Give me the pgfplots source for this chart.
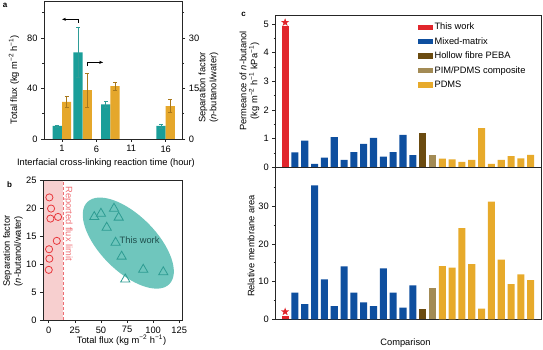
\documentclass[border=0pt]{standalone}
\usepackage{fontspec}
\setmainfont{Liberation Sans}
\usepackage{pgfplots}
\pgfplotsset{compat=1.18}
\usetikzlibrary{arrows.meta}
\definecolor{tealc}{HTML}{1A9E99}
\definecolor{tealerr}{HTML}{2E9C97}
\definecolor{goldc}{HTML}{E5A72B}
\definecolor{golderr}{HTML}{A8781C}
\definecolor{pinkfill}{HTML}{F7CFCF}
\definecolor{pinkline}{HTML}{EE6E73}
\definecolor{circc}{HTML}{E8383D}
\definecolor{ellfill}{HTML}{6FC6BD}
\definecolor{tric}{HTML}{2E9C92}
\definecolor{twtext}{HTML}{1F4E4C}
\definecolor{redbar}{HTML}{E1262C}
\definecolor{bluebar}{HTML}{0E4F9F}
\definecolor{brownbar}{HTML}{6B4B10}
\definecolor{khakibar}{HTML}{A38B55}
\definecolor{pdmsbar}{HTML}{E7AA2B}
\pgfdeclareplotmark{fstar}{%
  \pgfpathmoveto{\pgfpointpolar{90}{\pgfplotmarksize}}%
  \pgfpathlineto{\pgfpointpolar{126}{0.40\pgfplotmarksize}}%
  \pgfpathlineto{\pgfpointpolar{162}{\pgfplotmarksize}}%
  \pgfpathlineto{\pgfpointpolar{198}{0.40\pgfplotmarksize}}%
  \pgfpathlineto{\pgfpointpolar{234}{\pgfplotmarksize}}%
  \pgfpathlineto{\pgfpointpolar{270}{0.40\pgfplotmarksize}}%
  \pgfpathlineto{\pgfpointpolar{306}{\pgfplotmarksize}}%
  \pgfpathlineto{\pgfpointpolar{342}{0.40\pgfplotmarksize}}%
  \pgfpathlineto{\pgfpointpolar{18}{\pgfplotmarksize}}%
  \pgfpathlineto{\pgfpointpolar{54}{0.40\pgfplotmarksize}}%
  \pgfpathclose
  \pgfusepathqfill}
\newcommand{\lf}{\fontsize{9.3}{11}\selectfont}
\newcommand{\tf}{\fontsize{9.3}{10}\selectfont}
\pgfplotsset{
  every axis/.append style={
    scale only axis,
    axis line style={black!85, line width=0.6pt},
    tick style={black!85, line width=0.6pt},
    tick align=outside,
    major tick length=3pt,
    minor tick length=1.8pt,
    tick label style={font=\tf},
    label style={font=\lf},
    /pgf/number format/assume math mode=true,
  },
}
\begin{document}
\begin{tikzpicture}
\path[use as bounding box] (0,0) rectangle (543pt,350pt);

% ---------------- panel a (left axis) ----------------
\begin{axis}[
  at={(44pt,211pt)}, anchor=south west, width=138.3pt, height=138pt,
  xmin=-1.6, xmax=18.4, ymin=0, ymax=109.3,
  xtick={1,6,11,16}, ytick={0,40,80}, minor ytick={20,60,100},
  tick pos=left,
  ylabel={Total flux (kg m\textsuperscript{−2} h\textsuperscript{−1})},
  ylabel style={at={(axis description cs:-0.217,0.43)}, anchor=center},
  xlabel={Interfacial cross-linking reaction time (hour)},
  xlabel style={at={(axis description cs:0.448,-0.174)}, anchor=center},
]
\addplot[ybar, bar width=1.33, bar shift=0pt, fill=tealc, draw=none,
  error bars/.cd, y dir=both, y explicit,
  error bar style={tealerr, line width=0.7pt},
  error mark options={rotate=90, mark size=2pt, tealerr, line width=0.7pt}]
  coordinates {(0.33,10.3) +- (0,0.8) (3.33,68.7) +- (0,19.7) (7.33,27.5) +- (0,2.5) (15.33,10.3) +- (0,1.5)};
\draw[line width=0.6pt, -{Stealth[length=4pt,width=3pt]}] (axis cs:3.3,91.9) -- (axis cs:3.3,94.8) -- (axis cs:1.0,94.8);
\draw[line width=0.6pt, -{Stealth[length=4pt,width=3pt]}] (axis cs:4.65,57.8) -- (axis cs:4.65,60.7) -- (axis cs:6.96,60.7);
\end{axis}

% ---------------- panel a (right axis) ----------------
\begin{axis}[
  at={(44pt,211pt)}, anchor=south west, width=138.3pt, height=138pt,
  xmin=-1.6, xmax=18.4, ymin=0, ymax=41,
  axis y line*=right, axis x line=none,
  ytick={0,15,30}, minor ytick={7.5,22.5,37.5},
  ylabel={Separation factor\\(\textit{n}-butanol/water)},
  ylabel style={align=center, at={(axis description cs:1.19,0.373)}, anchor=center},
]
\addplot[ybar, bar width=1.33, bar shift=0pt, fill=goldc, draw=none,
  error bars/.cd, y dir=both, y explicit,
  error bar style={golderr, line width=0.7pt},
  error mark options={rotate=90, mark size=2pt, golderr, line width=0.7pt}]
  coordinates {(1.67,11.0) +- (0,1.6) (4.67,14.5) +- (0,5.0) (8.67,15.7) +- (0,1.2) (16.67,9.8) +- (0,2.0)};
\end{axis}

% ---------------- panel b ----------------
\begin{axis}[
  at={(43pt,30pt)}, anchor=south west, width=139.7pt, height=139.3pt,
  xmin=-5.5, xmax=128.3, ymin=0, ymax=25,
  xtick={0,25,50,75,100,125}, ytick={0,5,10,15,20,25},
  tick pos=left, axis on top,
  xlabel={Total flux (kg m\textsuperscript{−2} h\textsuperscript{−1})},
  xlabel style={at={(axis description cs:0.562,-0.144)}, anchor=center},
  ylabel={Separation factor\\(\textit{n}-butanol/water)},
  ylabel style={align=center, at={(axis description cs:-0.215,0.495)}, anchor=center},
]
\fill[pinkfill] (axis cs:-5.5,0) rectangle (axis cs:14,25);
\draw[pinkline, dashed, line width=0.9pt, dash pattern=on 3pt off 2pt] (axis cs:14,0) -- (axis cs:14,25);
\fill[ellfill, rotate around={-45:(axis cs:76.2,13.8)}] (axis cs:76.2,13.8) ellipse [x radius=58pt, y radius=28pt];
\node[rotate=-90, anchor=west, text=pinkline, font=\lf] at (axis cs:18.8,24.6) {Reported flux limit};
\node[text=twtext, font=\lf] at (axis cs:87,14.4) {This work};
\addplot[only marks, mark=o, mark size=3.6pt, circc, line width=0.8pt]
  coordinates {(0.6,22) (2.2,20) (1.6,18.2) (8.9,18.5) (7.7,14.2) (0.3,12.7) (0.6,11) (0,9)};
\addplot[only marks, mark=triangle, mark size=5.3pt, tric, line width=0.8pt]
  coordinates {(43.6,18.5) (50,19.1) (62.5,20) (67,18.4) (55.5,16.6) (64,13.9) (69.8,11.4) (90.5,9.05) (109.7,8.6) (73.3,7.3)};
\end{axis}

% ---------------- panel c top ----------------
\begin{axis}[
  at={(275.3pt,182.7pt)}, anchor=south west, width=266.2pt, height=152.3pt,
  xmin=0, xmax=27.1, ymin=0, ymax=5.31,
  xtick=\empty, ytick={0,1,2,3,4,5}, minor ytick={0.5,1.5,2.5,3.5,4.5},
  tick pos=left,
  ylabel={Permeance of \textit{n}-butanol\\(kg m\textsuperscript{−2} h\textsuperscript{−1} kPa\textsuperscript{−1})},
  ylabel style={align=center, at={(axis description cs:-0.097,0.567)}, anchor=center},
  legend style={draw=none, fill=none, at={(0.525,0.974)}, anchor=north west, font=\lf, row sep=2.2pt,
    /tikz/every even column/.append style={column sep=0pt}},
  legend cell align=left,
  legend image code/.code={\fill[#1] (0pt,-2.7pt) rectangle (14.3pt,2.7pt);},
]
\addplot[ybar, bar width=0.72, bar shift=0pt, fill=redbar, draw=none] coordinates {(1,4.93)};
\addlegendentry{This work}
\addplot[ybar, bar width=0.72, bar shift=0pt, fill=bluebar, draw=none] coordinates {
  (2,0.52) (3,0.93) (4,0.12) (5,0.34) (6,1.05) (7,0.26) (8,0.53) (9,0.82) (10,1.03) (11,0.37) (12,0.53) (13,1.13) (14,0.42)};
\addlegendentry{Mixed-matrix}
\addplot[ybar, bar width=0.72, bar shift=0pt, fill=brownbar, draw=none] coordinates {(15,1.2)};
\addlegendentry{Hollow fibre PEBA}
\addplot[ybar, bar width=0.72, bar shift=0pt, fill=khakibar, draw=none] coordinates {(16,0.42)};
\addlegendentry{PIM/PDMS composite}
\addplot[ybar, bar width=0.72, bar shift=0pt, fill=pdmsbar, draw=none] coordinates {
  (17,0.3) (18,0.28) (19,0.19) (20,0.26) (21,1.37) (22,0.12) (23,0.26) (24,0.39) (25,0.31) (26,0.43)};
\addlegendentry{PDMS}
\addplot[only marks, mark=fstar, mark size=4.3pt, redbar, forget plot] coordinates {(1,5.05)};
\end{axis}

% ---------------- panel c bottom ----------------
\begin{axis}[
  at={(275.3pt,30.7pt)}, anchor=south west, width=266.2pt, height=152pt,
  xmin=0, xmax=27.1, ymin=0, ymax=40.3,
  xtick=\empty, ytick={0,10,20,30}, minor ytick={5,15,25,35},
  tick pos=left,
  ylabel={Relative membrane area},
  ylabel style={at={(axis description cs:-0.091,0.482)}, anchor=center},
  xlabel={Comparison},
  xlabel style={at={(axis description cs:0.489,-0.158)}, anchor=center},
]
\addplot[ybar, bar width=0.72, bar shift=0pt, fill=redbar, draw=none] coordinates {(1,1)};
\addplot[ybar, bar width=0.72, bar shift=0pt, fill=bluebar, draw=none] coordinates {
  (2,7.1) (3,4.0) (4,35.5) (5,10.6) (6,3.5) (7,14) (8,7.1) (9,4.5) (10,3.5) (11,13.5) (12,7.1) (13,3.1) (14,9.0)};
\addplot[ybar, bar width=0.72, bar shift=0pt, fill=brownbar, draw=none] coordinates {(15,2.8)};
\addplot[ybar, bar width=0.72, bar shift=0pt, fill=khakibar, draw=none] coordinates {(16,8.2)};
\addplot[ybar, bar width=0.72, bar shift=0pt, fill=pdmsbar, draw=none] coordinates {
  (17,14.1) (18,13.7) (19,24.2) (20,14.6) (21,2.8) (22,31.2) (23,15.8) (24,9.3) (25,11.9) (26,10.4)};
\addplot[only marks, mark=fstar, mark size=4.3pt, redbar] coordinates {(1,2.0)};
\end{axis}

% panel letters
\node[font=\bfseries\fontsize{8}{9}\selectfont] at (5pt,345pt) {a};
\node[font=\bfseries\fontsize{8}{9}\selectfont] at (9.5pt,165pt) {b};
\node[font=\bfseries\fontsize{8}{9}\selectfont] at (243.5pt,336pt) {c};
\end{tikzpicture}
\end{document}
